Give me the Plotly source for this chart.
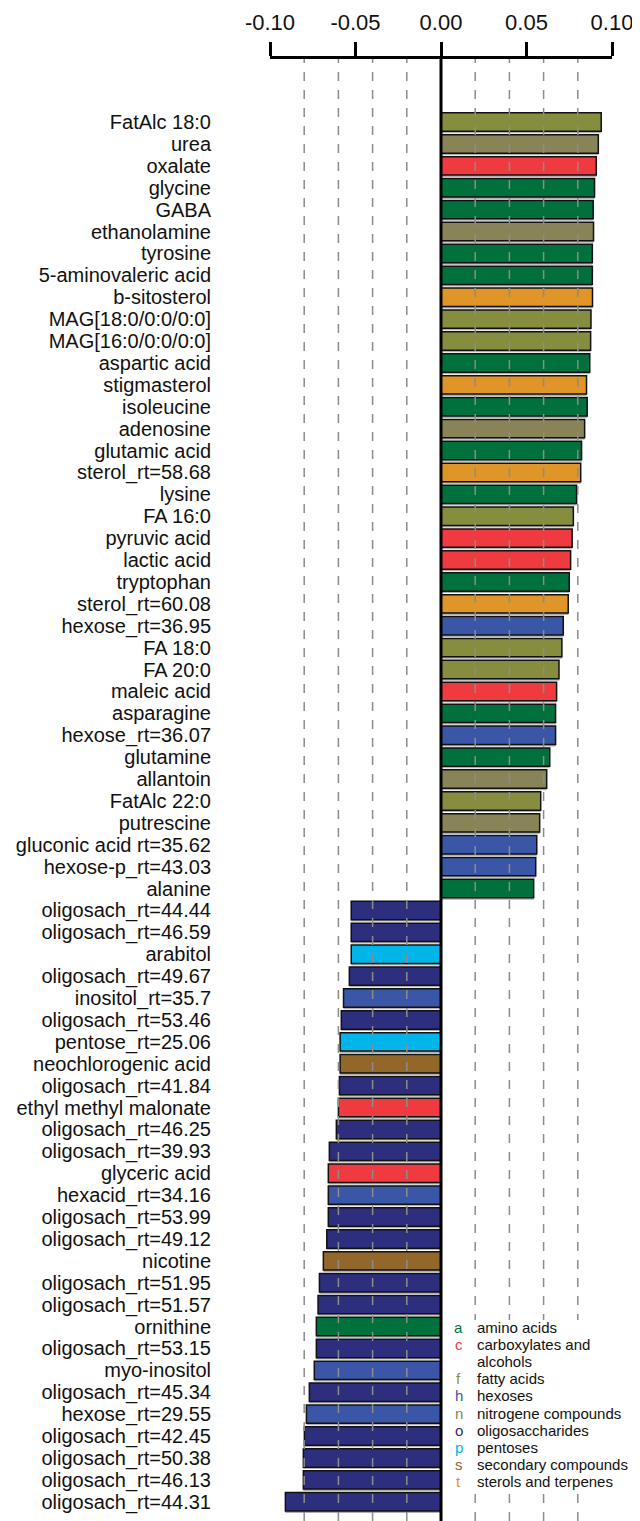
import plotly.graph_objects as go

labels = [
    "FatAlc 18:0", "urea", "oxalate", "glycine", "GABA", "ethanolamine", "tyrosine",
    "5-aminovaleric acid", "b-sitosterol", "MAG[18:0/0:0/0:0]", "MAG[16:0/0:0/0:0]",
    "aspartic acid", "stigmasterol", "isoleucine", "adenosine", "glutamic acid",
    "sterol_rt=58.68", "lysine", "FA 16:0", "pyruvic acid", "lactic acid", "tryptophan",
    "sterol_rt=60.08", "hexose_rt=36.95", "FA 18:0", "FA 20:0", "maleic acid",
    "asparagine", "hexose_rt=36.07", "glutamine", "allantoin", "FatAlc 22:0",
    "putrescine", "gluconic acid rt=35.62", "hexose-p_rt=43.03", "alanine",
    "oligosach_rt=44.44", "oligosach_rt=46.59", "arabitol", "oligosach_rt=49.67",
    "inositol_rt=35.7", "oligosach_rt=53.46", "pentose_rt=25.06", "neochlorogenic acid",
    "oligosach_rt=41.84", "ethyl methyl malonate", "oligosach_rt=46.25",
    "oligosach_rt=39.93", "glyceric acid", "hexacid_rt=34.16", "oligosach_rt=53.99",
    "oligosach_rt=49.12", "nicotine", "oligosach_rt=51.95", "oligosach_rt=51.57",
    "ornithine", "oligosach_rt=53.15", "myo-inositol", "oligosach_rt=45.34",
    "hexose_rt=29.55", "oligosach_rt=42.45", "oligosach_rt=50.38", "oligosach_rt=46.13",
    "oligosach_rt=44.31",
]

values = [
    0.0937, 0.0920, 0.0908, 0.0898, 0.0890, 0.0892, 0.0885, 0.0885, 0.0886, 0.0877,
    0.0875, 0.0870, 0.0851, 0.0855, 0.0840, 0.0822, 0.0817, 0.0793, 0.0774, 0.0767,
    0.0758, 0.0750, 0.0744, 0.0715, 0.0707, 0.0690, 0.0676, 0.0670, 0.0670, 0.0636,
    0.0618, 0.0583, 0.0577, 0.0560, 0.0554, 0.0542,
    -0.0525, -0.0525, -0.0525, -0.0536, -0.0570, -0.0583, -0.0590, -0.0590, -0.0594,
    -0.0600, -0.0612, -0.0653, -0.0659, -0.0659, -0.0659, -0.0668, -0.0688, -0.0711,
    -0.0719, -0.0729, -0.0729, -0.0741, -0.0770, -0.0787, -0.0799, -0.0805, -0.0805,
    -0.0910,
]

classes = [
    "f", "n", "c", "a", "a", "n", "a", "a", "t", "f", "f", "a", "t", "a", "n", "a",
    "t", "a", "f", "c", "c", "a", "t", "h", "f", "f", "c", "a", "h", "a", "n", "f",
    "n", "h", "h", "a",
    "o", "o", "p", "o", "h", "o", "p", "s", "o", "c", "o", "o", "c", "h", "o", "o",
    "s", "o", "o", "a", "o", "h", "o", "h", "o", "o", "o", "o",
]

legend_keys = ["a", "c", "", "f", "h", "n", "o", "p", "s", "t"]
legend_names = ["amino acids", "carboxylates and", "alcohols", "fatty acids", "hexoses",
                "nitrogene compounds", "oligosaccharides", "pentoses",
                "secondary compounds", "sterols and terpenes"]
class_colors = {
    "a": "#00703c", "c": "#ef3b40", "f": "#878d3e", "h": "#3a56a6", "n": "#888457",
    "o": "#2e2e7e", "p": "#00b5e9", "s": "#93672a", "t": "#df9528",
}

x_ticks = [-0.10, -0.05, 0.0, 0.05, 0.10]
x_ticktext = ["-0.10", "-0.05", "0.00", "0.05", "0.10"]
grid_vals = [-0.08, -0.06, -0.04, -0.02, 0.02, 0.04, 0.06, 0.08]

n = len(labels)
idx = list(range(n))
FONT = "Liberation Sans, Arial"

fig = go.Figure()
# subtle drop shadow
fig.add_trace(go.Bar(
    x=values, y=[i + 0.08 for i in idx], orientation="h", width=0.86,
    marker=dict(color="#b0b0b0", line=dict(width=0)), hoverinfo="skip", showlegend=False,
))
fig.add_trace(go.Bar(
    x=values, y=idx, orientation="h", width=0.84,
    marker=dict(color=[class_colors[c] for c in classes],
                line=dict(color="#111111", width=1.5)),
    showlegend=False,
))

shapes = []
for g in grid_vals:
    shapes.append(dict(type="line", xref="x", yref="paper", x0=g, x1=g, y0=0, y1=1,
                       line=dict(color="#8c8c8c", width=1.5, dash="dash"), layer="above"))
# legend background box
shapes.append(dict(type="rect", xref="x", yref="y", x0=0.003, x1=0.115, y0=54.7, y1=62.5,
                   fillcolor="white", line=dict(width=0), layer="above"))
# zero line
shapes.append(dict(type="line", xref="x", yref="paper", x0=0, x1=0, y0=0, y1=1,
                   line=dict(color="black", width=3), layer="above"))

annotations = []
row_pix = 17.2 / 21.9
y0 = (1327 - 122) / 21.9
for i, (k, name) in enumerate(zip(legend_keys, legend_names)):
    yy = y0 + i * row_pix
    if k:
        annotations.append(dict(x=0.0105, y=yy, xref="x", yref="y", text=k, showarrow=False,
                                xanchor="center", yanchor="middle",
                                font=dict(size=15, color=class_colors[k], family=FONT)))
    annotations.append(dict(x=0.0200, y=yy, xref="x", yref="y", text=name,
                            showarrow=False, xanchor="left", yanchor="middle",
                            font=dict(size=15, color="#111111", family=FONT)))

# the page body adds an 8px offset; compensate so the plot lands where the reference has it
fig.update_layout(
    width=632, height=1513,
    margin=dict(l=262, r=28, t=51, b=0, autoexpand=False),
    paper_bgcolor="white", plot_bgcolor="white",
    barmode="overlay",
    shapes=shapes, annotations=annotations,
    font=dict(family=FONT, color="#111111"),
    xaxis=dict(
        side="top", range=[-0.10, 0.10], tickvals=x_ticks, ticktext=x_ticktext,
        showgrid=False, zeroline=False, showline=True, linecolor="black", linewidth=3,
        ticks="outside", ticklen=14, tickwidth=3, tickcolor="black", automargin=False,
        tickfont=dict(size=22, color="#111111"), ticklabelstandoff=3,
    ),
    yaxis=dict(
        range=[63.88, -2.88], tickvals=idx, ticktext=labels, showgrid=False,
        zeroline=False, showline=False, ticks="", ticklabelstandoff=58, automargin=False,
        tickfont=dict(size=20, color="#111111"),
    ),
)

fig.write_html("out.html")
